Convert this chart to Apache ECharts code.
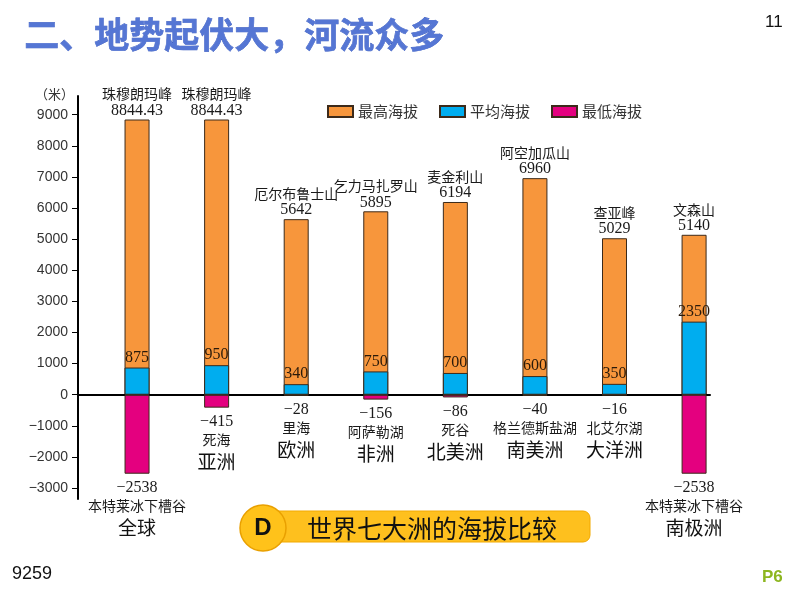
<!DOCTYPE html>
<html>
<head>
<meta charset="utf-8">
<script src="https://cdn.jsdelivr.net/npm/echarts@6/dist/echarts.min.js"></script>
<style>
html,body{margin:0;padding:0;background:#fff;}
#chart{width:794px;height:596px;}
</style>
</head>
<body>
<div id="chart"></div>
<script>
// ---- data ----
const continents = ['全球', '亚洲', '欧洲', '非洲', '北美洲', '南美洲', '大洋洲', '南极洲'];
const peakNames = ['珠穆朗玛峰', '珠穆朗玛峰', '厄尔布鲁士山', '乞力马扎罗山', '麦金利山', '阿空加瓜山', '查亚峰', '文森山'];
const maxElev = [8844.43, 8844.43, 5642, 5895, 6194, 6960, 5029, 5140];
const avgElev = [875, 950, 340, 750, 700, 600, 350, 2350];
const lowNames = ['本特莱冰下槽谷', '死海', '里海', '阿萨勒湖', '死谷', '格兰德斯盐湖', '北艾尔湖', '本特莱冰下槽谷'];
const minElev = [-2538, -415, -28, -156, -86, -40, -16, -2538];
const yTicks = [-3000, -2000, -1000, 0, 1000, 2000, 3000, 4000, 5000, 6000, 7000, 8000, 9000];
const seriesNames = ['最高海拔', '平均海拔', '最低海拔'];

const minus = v => String(v).replace('-', '\u2212');
const serif = '"Liberation Serif", "Noto Sans CJK SC", serif';
const cjk = '"Noto Sans CJK SC", sans-serif';
const border = '#3c2a1a';

const chart = echarts.init(document.getElementById('chart'));
chart.setOption({
  animation: false,
  backgroundColor: '#fff',
  grid: { left: 78, top: 96, width: 632, height: 403 },
  legend: {
    left: 322, top: 99,
    itemWidth: 25, itemHeight: 11, itemGap: 21,
    icon: 'rect',
    textStyle: { fontFamily: cjk, fontSize: 15, color: '#333' },
    data: seriesNames
  },
  xAxis: {
    type: 'value', min: -0.742, max: 7.2,
    axisLine: { show: true, onZero: true, lineStyle: { color: '#000', width: 2 } },
    axisTick: { show: false }, axisLabel: { show: false }, splitLine: { show: false }
  },
  yAxis: {
    type: 'value', min: -3350, max: 9600,
    axisLine: { show: true, onZero: false, lineStyle: { color: '#000', width: 2 } },
    axisTick: { show: true, length: 6, customValues: yTicks, lineStyle: { color: '#000', width: 1 } },
    axisLabel: {
      customValues: yTicks, margin: 10,
      formatter: v => minus(v),
      fontFamily: '"Liberation Sans", Arial, sans-serif', fontSize: 14, color: '#333'
    },
    splitLine: { show: false }
  },
  series: [
    {
      name: seriesNames[0], type: 'bar', barWidth: 25, barGap: '-100%',
      itemStyle: { color: '#F7963C', borderColor: border, borderWidth: 1 },
      data: maxElev.map((v, i) => [i, v]),
      label: {
        show: true, position: 'top', distance: 1,
        formatter: p => `{n|${peakNames[p.dataIndex]}}\n{v|${maxElev[p.dataIndex]}}`,
        rich: {
          n: { fontFamily: cjk, fontSize: 14, color: '#1a1a1a', lineHeight: 17 },
          v: { fontFamily: serif, fontSize: 16, color: '#1a1a1a', lineHeight: 16 }
        }
      }
    },
    {
      name: seriesNames[1], type: 'bar', barWidth: 25, barGap: '-100%',
      itemStyle: { color: '#00ADEF', borderColor: border, borderWidth: 1 },
      data: avgElev.map((v, i) => [i, v]),
      label: {
        show: true, position: 'top', distance: 2,
        formatter: p => String(avgElev[p.dataIndex]),
        fontFamily: serif, fontSize: 16, color: '#2a1a0a'
      }
    },
    {
      name: seriesNames[2], type: 'bar', barWidth: 25, barGap: '-100%',
      itemStyle: { color: '#E4007F', borderColor: border, borderWidth: 1 },
      data: minElev.map((v, i) => [i, v]),
      label: {
        show: true, position: 'bottom', distance: 5,
        formatter: p => `{v|${minus(minElev[p.dataIndex])}}\n{n|${lowNames[p.dataIndex]}}\n{c|${continents[p.dataIndex]}}`,
        rich: {
          v: { fontFamily: serif, fontSize: 16, color: '#1a1a1a', lineHeight: 18 },
          n: { fontFamily: cjk, fontSize: 14, color: '#1a1a1a', lineHeight: 18 },
          c: { fontFamily: cjk, fontSize: 19, color: '#111', lineHeight: 26 }
        }
      }
    }
  ],
  graphic: [
    {
      type: 'text', left: 24, top: 17,
      style: {
        text: '二、地势起伏大，河流众多',
        font: 'bold 35px "Noto Sans CJK SC", sans-serif',
        fill: '#5576D4',
        stroke: '#3A5BBE', lineWidth: 0.6,
        shadowColor: 'rgba(0,0,0,0.55)', shadowOffsetX: 2, shadowOffsetY: 2, shadowBlur: 2
      }
    },
    {
      type: 'text', left: 765, top: 14,
      style: { text: '11', font: '17px "Liberation Sans", Arial, sans-serif', fill: '#111' }
    },
    {
      type: 'text', left: 35, top: 88,
      style: { text: '（米）', font: '13px "Noto Sans CJK SC", sans-serif', fill: '#333' }
    },
    {
      type: 'text', left: 12, top: 565,
      style: { text: '9259', font: '18px "Liberation Sans", Arial, sans-serif', fill: '#111' }
    },
    {
      type: 'text', left: 762, top: 569,
      style: { text: 'P6', font: 'bold 17px "Liberation Sans", Arial, sans-serif', fill: '#8DB620' }
    },
    {
      type: 'group',
      children: [
        {
          type: 'rect', shape: { x: 252, y: 511, width: 338, height: 31, r: 7 },
          style: { fill: '#FEC01E', stroke: '#F2A900', lineWidth: 1 }
        },
        {
          type: 'circle', shape: { cx: 263, cy: 528, r: 23 },
          style: { fill: '#FFC21A', stroke: '#E9A000', lineWidth: 1.5 }
        },
        {
          type: 'text', x: 263, y: 528,
          style: { text: 'D', font: 'bold 24px "Liberation Sans", Arial, sans-serif', fill: '#111', align: 'center', verticalAlign: 'middle' }
        },
        {
          type: 'text', x: 307, y: 528,
          style: { text: '世界七大洲的海拔比较', font: '25px "Noto Sans CJK SC", sans-serif', fill: '#111', align: 'left', verticalAlign: 'middle' }
        }
      ]
    }
  ]
});
</script>
</body>
</html>
